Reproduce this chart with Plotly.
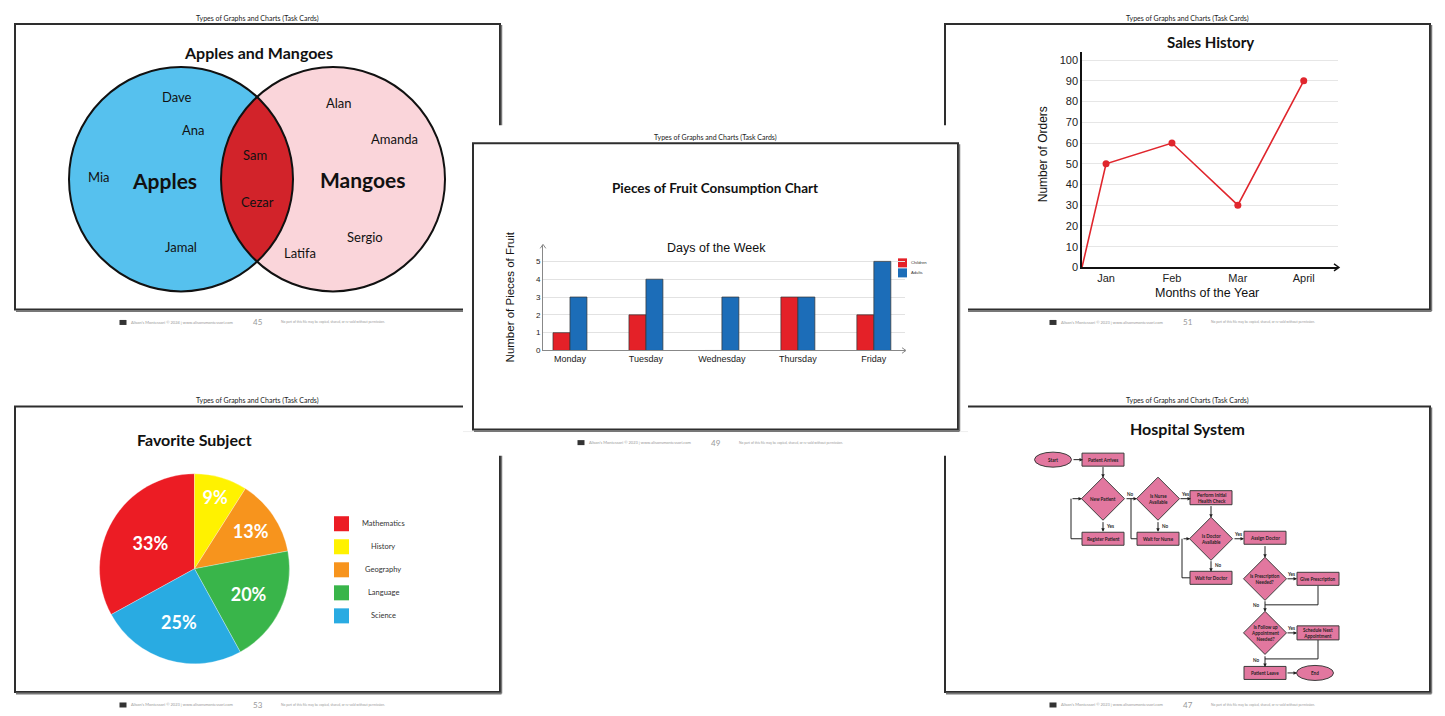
import numpy as np
import plotly.graph_objects as go

W, H = 1445, 716
FIG_H = 723   # the photographed page is slightly taller and gets squeezed to 716

# ---------------- data ----------------
page_header = "Types of Graphs and Charts (Task Cards)"

venn_title = "Apples and Mangoes"
set_names = ["Apples", "Mangoes"]
apples_only = ["Dave", "Ana", "Mia", "Jamal"]
both_sets = ["Sam", "Cezar"]
mangoes_only = ["Alan", "Amanda", "Sergio", "Latifa"]

bar_title = "Pieces of Fruit Consumption Chart"
bar_subtitle = "Days of the Week"
bar_ytitle = "Number of Pieces of Fruit"
days = ["Monday", "Tuesday", "Wednesday", "Thursday", "Friday"]
children = [1, 2, 0, 3, 2]
adults = [3, 4, 3, 3, 5]
bar_yticks = [0, 1, 2, 3, 4, 5]

sales_title = "Sales History"
months = ["Jan", "Feb", "Mar", "April"]
month_pos = [1, 2, 3, 4]
orders = [50, 60, 30, 90]
sales_start_pos = 0.635
sales_start_val = 0
sales_yticks = list(range(0, 101, 10))

pie_title = "Favorite Subject"
subjects = ["Mathematics", "History", "Geography", "Language", "Science"]
shares = [33, 9, 13, 20, 25]
subject_colors = ["#EC1C24", "#FFF200", "#F7941D", "#39B54A", "#29ABE2"]

flow_title = "Hospital System"

# ---------------- helpers ----------------
def px(x):
    return x / W


def py(y):
    return 1 - y / H


MYR = "Lato"
HEL = "Liberation Sans"
shapes = []
annots = []


def rect(x0, y0, x1, y1, fill=None, line=None, lw=0, layer="below"):
    d = dict(type="rect", xref="paper", yref="paper", x0=px(x0), x1=px(x1),
             y0=py(y1), y1=py(y0), layer=layer, line=dict(width=lw, color=line or "rgba(0,0,0,0)"))
    if fill:
        d["fillcolor"] = fill
    shapes.append(d)


def seg(x0, y0, x1, y1, color="#333", lw=1, layer="below"):
    shapes.append(dict(type="line", xref="paper", yref="paper", x0=px(x0), x1=px(x1),
                       y0=py(y0), y1=py(y1), layer=layer, line=dict(color=color, width=lw)))


def chevron(x, y, direction, s=4, color="#333", lw=1):
    if direction == "up":
        p = [(x - s * 0.7, y + s), (x, y), (x + s * 0.7, y + s)]
    else:
        p = [(x - s, y - s * 0.7), (x, y), (x - s, y + s * 0.7)]
    path = "M " + " L ".join(f"{px(a):.5f},{py(b):.5f}" for a, b in p)
    shapes.append(dict(type="path", xref="paper", yref="paper", path=path,
                       line=dict(color=color, width=lw), layer="above"))


def txt(x, y, s, size, color="#222", family=MYR, bold=False, xanchor="center", angle=0):
    if bold:
        s = "<b>" + s + "</b>"
    annots.append(dict(x=px(x), y=py(y), xref="paper", yref="paper", text=s, showarrow=False,
                       xanchor=xanchor, yanchor="middle", textangle=angle,
                       font=dict(size=size, color=color, family=family)))


def arrow(x_tip, y_tip, x_tail, y_tail, color="#333", width=1, size=0.8, head=2):
    annots.append(dict(x=px(x_tip), y=py(y_tip), xref="paper", yref="paper", text="",
                       showarrow=True, ax=x_tail - x_tip, ay=(y_tail - y_tip) * FIG_H / H,
                       arrowhead=head, arrowsize=size, arrowwidth=width, arrowcolor=color,
                       standoff=0, startstandoff=0))


def card(l, t, r, b, num, year):
    rect(l, t, r, b, fill="white", line="#2e2e2e", lw=2)
    seg(l + 1, b + 1.5, r + 1.5, b + 1.5, color="#777", lw=2)
    seg(r + 1.5, t + 1, r + 1.5, b + 1.5, color="#777", lw=1.5)
    cx = (l + r) / 2
    txt(cx, t - 6, page_header, 7, color="#222")
    fy = b + 13
    rect(cx - 138, fy - 2.5, cx - 131, fy + 2.5, fill="#333")
    txt(cx - 129, fy, "Alison's Montessori \u00a9 " + year + " | www.alisonsmontessori.com", 4,
        color="#999", xanchor="left")
    txt(cx, fy, num, 8, color="#999")
    txt(cx + 21, fy, "No part of this file may be copied, shared, or re-sold without permission.",
        3.3, color="#999", xanchor="left")


# ---------------- cards (background) ----------------
card(15, 24, 500, 309, "45", "2024")
card(945, 24, 1430, 309, "51", "2023")
card(15, 406, 500, 691, "53", "2023")
card(945, 406, 1430, 691, "47", "2023")
rect(463, 125, 968, 455, fill="white")
seg(463, 431, 968, 431, color="#eee", lw=1)
card(473, 143, 958, 429, "49", "2023")

# ---------------- Venn diagram ----------------
cy, rr = 179, 112
lx, rx = 181, 333
for c, col in ((lx, "#56C1EE"), (rx, "#FAD5DA")):
    shapes.append(dict(type="circle", xref="paper", yref="paper", x0=px(c - rr), x1=px(c + rr),
                       y0=py(cy + rr), y1=py(cy - rr), fillcolor=col, line=dict(width=0), layer="below"))
d = rx - lx
a = d / 2
hh = np.sqrt(rr ** 2 - a ** 2)
ang = np.arctan2(hh, a)
t1 = np.linspace(-ang, ang, 40)
t2 = np.linspace(np.pi - ang, np.pi + ang, 40)
pts = [(lx + rr * np.cos(t), cy + rr * np.sin(t)) for t in t1]
pts += [(rx + rr * np.cos(t), cy - rr * np.sin(t)) for t in t2]
path = "M " + " L ".join(f"{px(x):.5f},{py(y):.5f}" for x, y in pts) + " Z"
shapes.append(dict(type="path", xref="paper", yref="paper", path=path, fillcolor="#D2232A",
                   line=dict(width=0), layer="below"))
for c in (lx, rx):
    shapes.append(dict(type="circle", xref="paper", yref="paper", x0=px(c - rr), x1=px(c + rr),
                       y0=py(cy + rr), y1=py(cy - rr), line=dict(width=2, color="#111"), layer="below"))

txt(258, 52, venn_title, 16, color="#111", bold=True)
txt(164, 180, set_names[0], 21, color="#111", bold=True)
txt(362, 179, set_names[1], 21, color="#111", bold=True)
for n, p in zip(apples_only, [(177, 97), (193, 130), (99, 177), (181, 247)]):
    txt(p[0], p[1], n, 13, color="#111")
for n, p in zip(both_sets, [(255, 155), (257, 202)]):
    txt(p[0], p[1], n, 13, color="#111")
for n, p in zip(mangoes_only, [(339, 103), (394, 139), (365, 237), (300, 253)]):
    txt(p[0], p[1], n, 13, color="#111")

# ---------------- bar chart ----------------
txt(715, 188, bar_title, 13.5, color="#111", bold=True)
txt(716, 248, bar_subtitle, 12.5, color="#111", family=HEL)
txt(510, 297, bar_ytitle, 11.5, color="#111", family=HEL, angle=-90)
chevron(543, 244, "up", s=4, color="#888")
chevron(906, 350, "right", s=4, color="#888")
rect(898, 258, 907, 267, fill="#E42128")
rect(898, 268, 907, 277, fill="#1C6DB8")
txt(909, 262.5, "Children", 4.2, color="#333", family=HEL, xanchor="left")
txt(909, 272.5, "Adults", 4.2, color="#333", family=HEL, xanchor="left")

fig = go.Figure()
fig.add_trace(go.Bar(x=days, y=children, name="Children",
                     marker=dict(color="#E42128", line=dict(color="#333", width=0.7)),
                     xaxis="x", yaxis="y", showlegend=False))
fig.add_trace(go.Bar(x=days, y=adults, name="Adults",
                     marker=dict(color="#1C6DB8", line=dict(color="#333", width=0.7)),
                     xaxis="x", yaxis="y", showlegend=False))

# ---------------- sales line chart ----------------
txt(1210, 42, sales_title, 15, color="#111", bold=True)
txt(1207, 293, "Months of the Year", 12.5, color="#111", family=HEL)
txt(1043, 154, "Number of Orders", 12, color="#111", family=HEL, angle=-90)
chevron(1339, 267, "right", s=5, color="#111", lw=1.4)
fig.add_trace(go.Scatter(x=[sales_start_pos] + month_pos, y=[sales_start_val] + orders, mode="lines",
                         line=dict(color="#E0262D", width=1.6), xaxis="x2", yaxis="y2",
                         showlegend=False, cliponaxis=False))
fig.add_trace(go.Scatter(x=month_pos, y=orders, mode="markers", marker=dict(color="#E0262D", size=7),
                         xaxis="x2", yaxis="y2", showlegend=False, cliponaxis=False))

# ---------------- pie chart ----------------
txt(194, 439, pie_title, 16, color="#111", bold=True)
# keep the pie round after the vertical squeeze
pie_r_y = 95 * H / FIG_H
fig.add_trace(go.Pie(values=shares, labels=subjects, sort=False, direction="clockwise",
                     rotation=-shares[0] / sum(shares) * 360,
                     marker=dict(colors=subject_colors, line=dict(color="white", width=0.3)),
                     texttemplate="<b>%{value}%</b>", textposition="inside",
                     insidetextfont=dict(color="white", size=18, family=MYR),
                     insidetextorientation="horizontal",
                     domain=dict(x=[px(194.5 - 95), px(194.5 + 95)], y=[py(568 + 95), py(568 - 95)]),
                     showlegend=False, hoverinfo="skip"))
for i, (s, c) in enumerate(zip(subjects, subject_colors)):
    yc = 523 + 23 * i
    rect(334, yc - 7.5, 349, yc + 7.5, fill=c)
    txt(383, yc, s, 7.5, color="#333")

# ---------------- flowchart ----------------
txt(1187, 428, flow_title, 16, color="#111", bold=True)
PINK = "#E2779F"
OUT = "#3c3c3c"
flow_nodes = [
    ("ellipse", "Start", 1053, 459),
    ("rect", "Patient Arrives", 1103, 459),
    ("diamond", "New Patient", 1103, 498),
    ("rect", "Register Patient", 1103, 538),
    ("diamond", "Is Nurse<br>Available", 1158, 498),
    ("rect", "Wait for Nurse", 1158, 538),
    ("rect", "Perform Initial<br>Health Check", 1211, 497),
    ("diamond", "Is Doctor<br>Available", 1211, 538),
    ("rect", "Assign Doctor", 1265, 537),
    ("rect", "Wait for Doctor", 1211, 577),
    ("diamond", "Is Prescription<br>Needed?", 1265, 578),
    ("rect", "Give Prescription", 1318, 578),
    ("diamond", "Is Follow up<br>Appointment<br>Needed?", 1265, 632),
    ("rect", "Schedule Next<br>Appointment", 1318, 632),
    ("rect", "Patient Leave", 1265, 672),
    ("ellipse", "End", 1315, 672),
]
flow_edges = [
    ([(1072, 459), (1083, 459)], True),
    ([(1103, 465), (1103, 477)], True),
    ([(1103, 520), (1103, 531)], True),
    ([(1083, 538), (1071, 538), (1071, 498), (1082, 498)], True),
    ([(1125, 498), (1137, 498)], True),
    ([(1158, 520), (1158, 531)], True),
    ([(1138, 538), (1131, 538), (1131, 498)], False),
    ([(1179, 498), (1191, 498)], True),
    ([(1211, 504), (1211, 517)], True),
    ([(1233, 538), (1244, 538)], True),
    ([(1211, 559), (1211, 571)], True),
    ([(1191, 577), (1182, 577), (1182, 538), (1190, 538)], True),
    ([(1265, 544), (1265, 557)], True),
    ([(1286, 578), (1297, 578)], True),
    ([(1318, 585), (1318, 604), (1265, 604)], False),
    ([(1265, 599), (1265, 611)], True),
    ([(1286, 632), (1297, 632)], True),
    ([(1318, 639), (1318, 658), (1265, 658)], False),
    ([(1265, 654), (1265, 666)], True),
    ([(1286, 672), (1297, 672)], True),
]
flow_labels = [("Yes", 1110, 525), ("No", 1130, 493), ("No", 1165, 525), ("Yes", 1185, 493),
               ("Yes", 1238, 533), ("No", 1218, 564), ("Yes", 1291, 573), ("No", 1256, 604),
               ("Yes", 1291, 627), ("No", 1256, 659)]

for pts_, has_arrow in flow_edges:
    segs = list(zip(pts_[:-1], pts_[1:]))
    for k, (p0, p1) in enumerate(segs):
        if has_arrow and k == len(segs) - 1:
            arrow(p1[0], p1[1], p0[0], p0[1], color="#222", width=1, size=0.7)
        else:
            seg(p0[0], p0[1], p1[0], p1[1], color="#222", lw=1)

for kind, label, x, y in flow_nodes:
    if kind == "rect":
        hh2 = 7 if "<br>" in label else 6.5
        rect(x - 21, y - hh2, x + 21, y + hh2, fill=PINK, line=OUT, lw=1)
    elif kind == "ellipse":
        shapes.append(dict(type="circle", xref="paper", yref="paper", x0=px(x - 18.5), x1=px(x + 18.5),
                           y0=py(y + 7.5), y1=py(y - 7.5), fillcolor=PINK, line=dict(color=OUT, width=1),
                           layer="below"))
    else:
        s = 21.5
        p = f"M {px(x)},{py(y - s)} L {px(x + s)},{py(y)} L {px(x)},{py(y + s)} L {px(x - s)},{py(y)} Z"
        shapes.append(dict(type="path", xref="paper", yref="paper", path=p, fillcolor=PINK,
                           line=dict(color=OUT, width=1), layer="below"))
    annots.append(dict(x=px(x), y=py(y), xref="paper", yref="paper", text="<b>" + label + "</b>",
                       showarrow=False, xanchor="center", yanchor="middle",
                       font=dict(size=4.6, color="#222", family=MYR)))
for s, x, y in flow_labels:
    txt(x, y, s, 4.6, color="#222", bold=True)

# ---------------- layout ----------------
fig.update_layout(
    width=W, height=FIG_H, autosize=False,
    margin=dict(l=0, r=0, t=0, b=0, pad=0),
    paper_bgcolor="white", plot_bgcolor="rgba(0,0,0,0)",
    barmode="group", bargap=0.553, bargroupgap=0,
    shapes=shapes, annotations=annots,
    xaxis=dict(domain=[px(543), px(905)], range=[-0.355, 4.41], type="category",
               showline=True, linecolor="#888", linewidth=1, ticks="", showgrid=False,
               tickfont=dict(size=9, family=HEL, color="#222"), zeroline=False, fixedrange=True),
    yaxis=dict(domain=[py(350), py(245)], range=[0, 5.9], tickvals=bar_yticks,
               showline=True, linecolor="#888", linewidth=1, ticks="", showgrid=True,
               gridcolor="#e2e2e2", gridwidth=1, zeroline=False,
               tickfont=dict(size=8, family=HEL, color="#222"), fixedrange=True),
    xaxis2=dict(domain=[px(1082), px(1338)], range=[sales_start_pos, 4.52], tickvals=month_pos,
                ticktext=months, showline=True, linecolor="#111", linewidth=1.5, ticks="",
                showgrid=False, zeroline=False, anchor="y2",
                tickfont=dict(size=11, family=HEL, color="#222"), fixedrange=True),
    yaxis2=dict(domain=[py(267), py(52)], range=[0, 103.9], tickvals=sales_yticks,
                showline=True, linecolor="#111", linewidth=1.5, ticks="", showgrid=True,
                gridcolor="#e6e6e6", gridwidth=1, zeroline=False, anchor="x2",
                tickfont=dict(size=11, family=HEL, color="#222"), fixedrange=True),
)

fig.write_html("out.html")
